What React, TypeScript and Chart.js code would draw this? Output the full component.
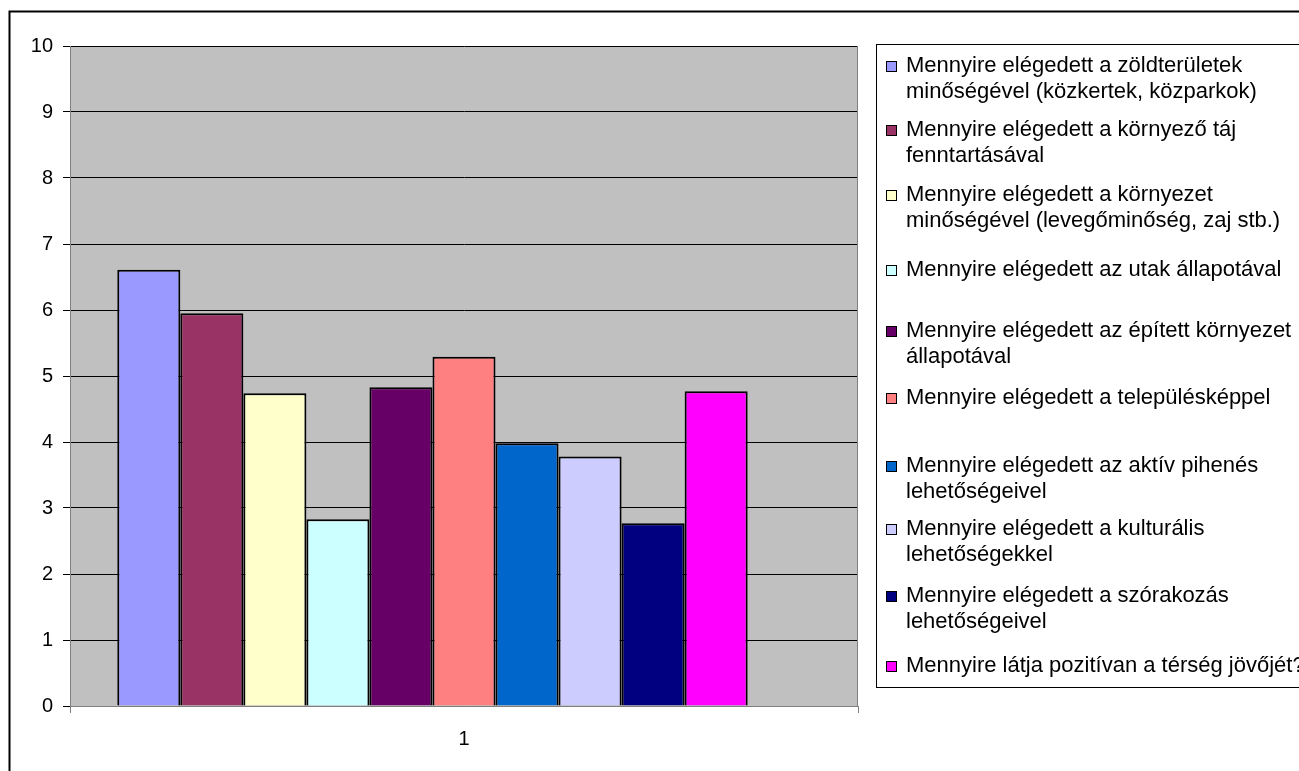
import React, { useEffect, useRef } from 'react';
import { Chart, registerables } from 'chart.js';

Chart.register(...registerables);

const categories: string[] = ['1'];

const seriesLabelLines: string[][] = [
  ['Mennyire elégedett a zöldterületek', 'minőségével (közkertek, közparkok)'],
  ['Mennyire elégedett a környező táj', 'fenntartásával'],
  ['Mennyire elégedett a környezet', 'minőségével (levegőminőség, zaj stb.)'],
  ['Mennyire elégedett az utak állapotával'],
  ['Mennyire elégedett az épített környezet', 'állapotával'],
  ['Mennyire elégedett a településképpel'],
  ['Mennyire elégedett az aktív pihenés', 'lehetőségeivel'],
  ['Mennyire elégedett a kulturális', 'lehetőségekkel'],
  ['Mennyire elégedett a szórakozás', 'lehetőségeivel'],
  ['Mennyire látja pozitívan a térség jövőjét?'],
];

const seriesValues: number[] = [6.61, 5.95, 4.74, 2.83, 4.83, 5.29, 3.98, 3.78, 2.77, 4.77];

const seriesColors: string[] = [
  '#9999FF', '#993366', '#FFFFCC', '#CCFFFF', '#660066',
  '#FF8080', '#0066CC', '#CCCCFF', '#000080', '#FF00FF',
];

const yMin = 0;
const yMax = 10;
const yStep = 1;

const FONT = '"Liberation Sans", Arial, sans-serif';

const legendFirstLineY = [66, 130, 195, 270, 331, 398, 466, 529, 596, 666];
const LEGEND_LINE_H = 26;

const decorPlugin = {
  id: 'decor',
  beforeDraw(chart: any) {
    const { ctx, chartArea: a } = chart;
    ctx.save();
    ctx.fillStyle = '#ffffff';
    ctx.fillRect(0, 0, chart.width, chart.height);
    ctx.fillStyle = '#C0C0C0';
    ctx.fillRect(a.left, a.top, a.right - a.left, a.bottom - a.top);
    ctx.strokeStyle = '#000000';
    ctx.lineWidth = 2;
    ctx.strokeRect(9.5, 11.5, 1400, 900);
    ctx.restore();
  },
  beforeDatasetsDraw(chart: any) {
    const { ctx, chartArea: a } = chart;
    ctx.save();
    ctx.strokeStyle = '#808080';
    ctx.lineWidth = 1;
    ctx.beginPath();
    ctx.moveTo(a.right - 0.5, a.top);
    ctx.lineTo(a.right - 0.5, a.bottom);
    ctx.stroke();
    ctx.restore();
  },
  afterDraw(chart: any) {
    const { ctx } = chart;
    ctx.save();
    ctx.strokeStyle = '#000000';
    ctx.lineWidth = 1;
    ctx.strokeRect(876.5, 44.5, 600, 643);
    ctx.font = `22px ${FONT}`;
    ctx.textBaseline = 'middle';
    ctx.textAlign = 'left';
    chart.data.datasets.forEach((ds: any, i: number) => {
      if (!ds.legendLines) return;
      const y0 = legendFirstLineY[i];
      ctx.fillStyle = ds.backgroundColor;
      ctx.fillRect(886, y0 - 5, 11, 11);
      ctx.strokeStyle = '#000000';
      ctx.lineWidth = 1;
      ctx.strokeRect(886.5, y0 - 4.5, 10, 10);
      ctx.fillStyle = '#000000';
      const lines: string[] = ds.legendLines;
      lines.forEach((t, j) => {
        ctx.fillText(t, 906, y0 + j * LEGEND_LINE_H);
      });
    });
    ctx.restore();
  },
};

export default function App() {
  const ref = useRef<HTMLCanvasElement | null>(null);

  useEffect(() => {
    if (!ref.current) return;
    const datasets: any[] = seriesLabelLines.map((lines, i) => ({
      label: lines.join(' '),
      legendLines: lines,
      data: [seriesValues[i]],
      backgroundColor: seriesColors[i],
      borderColor: '#000000',
      borderWidth: 2,
      categoryPercentage: 0.88,
      barPercentage: 1.0,
    }));
    // empty trailing series slot (as in the source workbook)
    datasets.push({
      label: '',
      data: [null],
      backgroundColor: 'rgba(0,0,0,0)',
      borderWidth: 0,
      categoryPercentage: 0.88,
      barPercentage: 1.0,
    });
    const chart = new Chart(ref.current, {
      type: 'bar',
      data: {
        labels: categories,
        datasets,
      },
      options: {
        animation: false,
        responsive: false,
        maintainAspectRatio: false,
        layout: { padding: { left: 0, top: 46, right: 441, bottom: 0 } },
        plugins: {
          legend: { display: false },
          tooltip: { enabled: false },
          title: { display: false },
        },
        scales: {
          x: {
            type: 'category',
            grid: {
              display: true,
              drawOnChartArea: false,
              drawTicks: true,
              tickLength: 7,
              color: '#808080',
              offset: true,
            },
            border: { display: true, color: '#808080', width: 1 },
            ticks: {
              color: '#000000',
              font: { family: FONT, size: 20 },
              padding: 14,
            },
            afterFit: (s: any) => {
              s.height = 65;
            },
          },
          y: {
            type: 'linear',
            min: yMin,
            max: yMax,
            grid: {
              color: (c: any) => (c.tick && c.tick.value === 0 ? '#808080' : '#000000'),
              tickColor: '#000000',
              tickLength: 7,
              lineWidth: 1,
            },
            border: { display: true, color: '#808080', width: 1 },
            ticks: {
              stepSize: yStep,
              color: '#000000',
              font: { family: FONT, size: 20 },
              padding: 10,
            },
            afterFit: (s: any) => {
              s.width = 70;
            },
          },
        },
      },
      plugins: [decorPlugin],
    });
    return () => chart.destroy();
  }, []);

  return (
    <div style={{ position: 'absolute', left: 0, top: 0, width: 1299, height: 771, overflow: 'hidden' }}>
      <canvas ref={ref} width={1299} height={771} style={{ display: 'block' }} />
    </div>
  );
}
